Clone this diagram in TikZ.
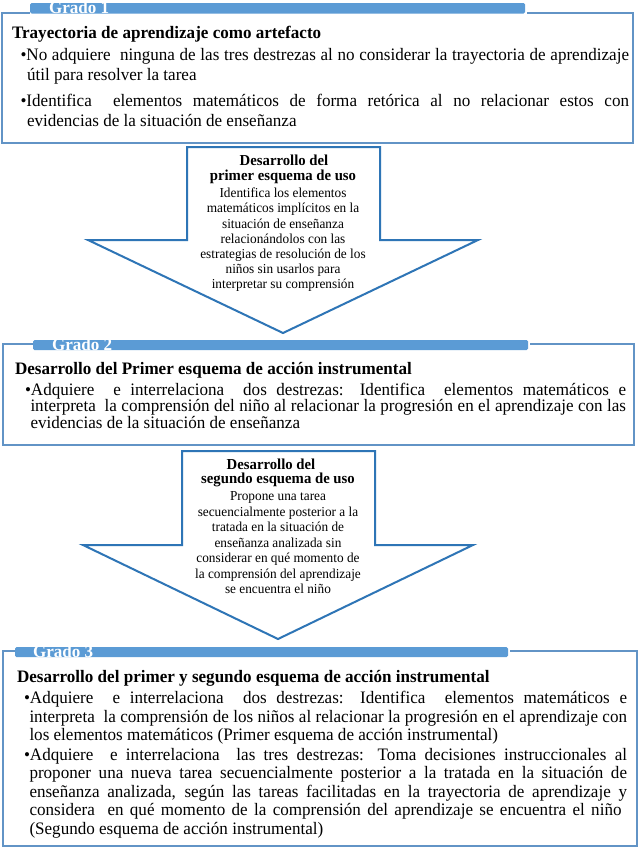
\documentclass[tikz,border=0pt]{standalone}
\usepackage{fontspec}
\setmainfont{Liberation Serif}
\newfontfamily\boxfont{Liberation Serif}[FakeStretch=0.975]
\newfontfamily\arrfont{Liberation Serif}[FakeStretch=0.97]
\definecolor{boxblue}{RGB}{98,148,198}
\definecolor{barblue}{RGB}{91,155,213}
\definecolor{arrblue}{RGB}{46,117,182}
\newcommand{\jl}[2]{\makebox[#1bp][s]{#2}}
\begin{document}
\begin{tikzpicture}[x=1bp,y=-1bp,
  every node/.style={inner sep=0pt,outer sep=0pt},
  boxline/.style={draw=boxblue,line width=1.5bp},
  barfill/.style={fill=barblue,rounded corners=1.5bp},
  arrowshape/.style={draw=arrblue,line width=2bp,fill=white,line join=miter},
  boxtxt/.style={anchor=base west,font=\boxfont\fontsize{17.5bp}{18bp}\selectfont},
  boxttl/.style={anchor=base west,font=\boxfont\bfseries\fontsize{17.5bp}{18bp}\selectfont},
  bartxt/.style={anchor=base west,text=white,font=\boxfont\bfseries\fontsize{17.5bp}{18bp}\selectfont},
  arrttl/.style={anchor=base,font=\arrfont\bfseries\fontsize{15.2bp}{15bp}\selectfont},
  arrtxt/.style={anchor=base,font=\arrfont\fontsize{13.7bp}{15bp}\selectfont}]
\useasboundingbox[fill=white] (0,0) rectangle (641,859);

% ---------- Box 1 ----------
\draw[boxline] (30,13) -- (2,13) -- (2,143) -- (633,143) -- (633,13) -- (527,13);
\fill[barfill] (30,3) rectangle (525,13.5);
\node[bartxt] (g1) at (49,13.5) {Grado 1};
\node[boxttl] (t1) at (12,38) {Trayectoria de aprendizaje como artefacto};
\node[boxtxt] (l1a) at (20.5,60) {\jl{608.5}{•No adquiere\ \ ninguna de las tres destrezas al no considerar la trayectoria de aprendizaje}};
\node[boxtxt] (l1b) at (27,80) {útil para resolver la tarea};
\node[boxtxt] (l1c) at (20.5,106) {\jl{608.5}{•Identifica\ \ elementos matemáticos de forma retórica al no relacionar estos con}};
\node[boxtxt] (l1d) at (27,126) {evidencias de la situación de enseñanza};

% ---------- Arrow 1 ----------
\draw[arrowshape] (187,147) -- (380,147) -- (380,240) -- (478,240) -- (283,333) -- (88,240) -- (187,240) -- cycle;
\node[arrttl] (a1t1) at (284,165.5) {Desarrollo del};
\node[arrttl] (a1t2) at (283,180.5) {primer esquema de uso};
\node[arrtxt] (a1l1) at (283,197) {Identifica los elementos};
\node[arrtxt] (a1l2) at (283,212.5) {matemáticos implícitos en la};
\node[arrtxt] (a1l3) at (283,228) {situación de enseñanza};
\node[arrtxt] (a1l4) at (283,243) {relacionándolos con las};
\node[arrtxt] (a1l5) at (283,258) {estrategias de resolución de los};
\node[arrtxt] (a1l6) at (283,273) {niños sin usarlos para};
\node[arrtxt] (a1l7) at (283,288) {interpretar su comprensión};

% ---------- Box 2 ----------
\draw[boxline] (33,344) -- (3,344) -- (3,445) -- (634,445) -- (634,344) -- (530,344);
\fill[barfill] (33,340) rectangle (528,350);
\node[bartxt] (g2) at (52,350) {Grado 2};
\node[boxttl] (t2) at (15,374) {Desarrollo del Primer esquema de acción instrumental};
\node[boxtxt] (l2a) at (25,395) {\jl{601}{•Adquiere\ \ e interrelaciona\ \ dos destrezas: Identifica\ \ elementos matemáticos e}};
\node[boxtxt] (l2b) at (30.5,411.5) {\jl{595.5}{interpreta\ \ la comprensión del niño al relacionar la progresión en el aprendizaje con las}};
\node[boxtxt] (l2c) at (30.5,428) {evidencias de la situación de enseñanza};

% ---------- Arrow 2 ----------
\draw[arrowshape] (182,451) -- (375,451) -- (375,545) -- (473,545) -- (278,639) -- (83,545) -- (182,545) -- cycle;
\node[arrttl] (a2t1) at (271,469.5) {Desarrollo del};
\node[arrttl] (a2t2) at (278,483.5) {segundo esquema de uso};
\node[arrtxt] (a2l1) at (278,500) {Propone una tarea};
\node[arrtxt] (a2l2) at (278,516) {secuencialmente posterior a la};
\node[arrtxt] (a2l3) at (278,531) {tratada en la situación de};
\node[arrtxt] (a2l4) at (278,547) {enseñanza analizada sin};
\node[arrtxt] (a2l5) at (278,562) {considerar en qué momento de};
\node[arrtxt] (a2l6) at (278,578) {la comprensión del aprendizaje};
\node[arrtxt] (a2l7) at (278,593) {se encuentra el niño};

% ---------- Box 3 ----------
\draw[boxline] (15,651) -- (3,651) -- (3,846) -- (637,846) -- (637,651) -- (510,651);
\fill[barfill] (15,647) rectangle (508,657);
\node[bartxt] (g3) at (33,657) {Grado 3};
\node[boxttl] (t3) at (17,682) {Desarrollo del primer y segundo esquema de acción instrumental};
\node[boxtxt] (l3a) at (24,703) {\jl{603}{•Adquiere\ \ e interrelaciona\ \ dos destrezas: Identifica\ \ elementos matemáticos e}};
\node[boxtxt] (l3b) at (29.5,722) {\jl{597.5}{interpreta\ \ la comprensión de los niños al relacionar la progresión en el aprendizaje con}};
\node[boxtxt] (l3c) at (29.5,740.5) {los elementos matemáticos (Primer esquema de acción instrumental)};
\node[boxtxt] (l3d) at (24,760) {\jl{603}{•Adquiere\ \ e interrelaciona\ \ las tres destrezas: Toma decisiones instruccionales al}};
\node[boxtxt] (l3e) at (29.5,778.5) {\jl{597.5}{proponer una nueva tarea secuencialmente posterior a la tratada en la situación de}};
\node[boxtxt] (l3f) at (29.5,797) {\jl{597.5}{enseñanza analizada, según las tareas facilitadas en la trayectoria de aprendizaje y}};
\node[boxtxt] (l3g) at (29.5,815.5) {\jl{592}{considera\ \ en qué momento de la comprensión del aprendizaje se encuentra el niño}};
\node[boxtxt] (l3h) at (29.5,834) {(Segundo esquema de acción instrumental)};
\end{tikzpicture}
\end{document}
